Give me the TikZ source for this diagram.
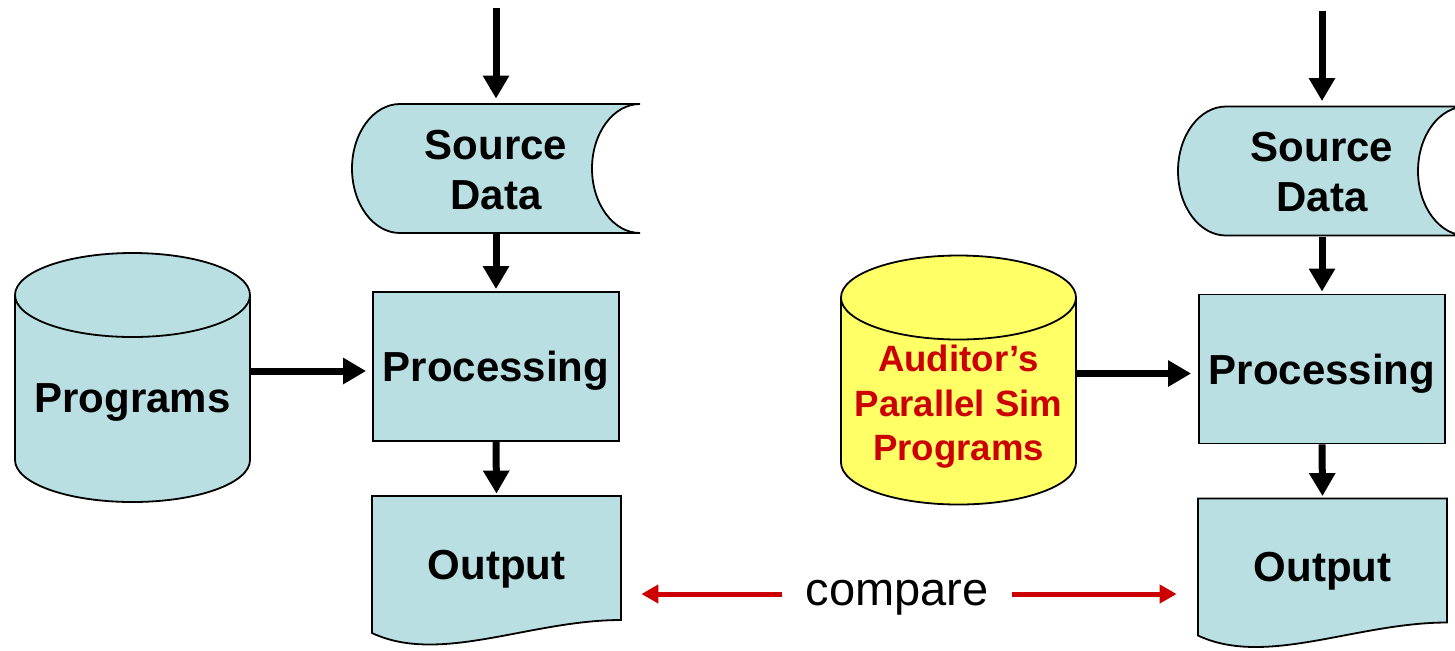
\documentclass[tikz,border=0pt]{standalone}
\usepackage{fontspec}
\setmainfont{Liberation Sans}
\usetikzlibrary{arrows.meta}
\definecolor{boxblue}{HTML}{B9DFE3}
\definecolor{simyellow}{HTML}{FFFF66}
\definecolor{alertred}{HTML}{CC0000}
\begin{document}
\begin{tikzpicture}[x=0.5pt,y=-0.5pt,
  shapeline/.style={draw=black, line width=0.9pt, fill=boxblue},
  lbl/.style={font=\bfseries\fontsize{21}{25}\selectfont, align=center, inner sep=0pt, text depth=0pt},
  simlbl/.style={font=\bfseries\fontsize{18.3}{22.3}\selectfont, align=center, inner sep=0pt, text=alertred, text depth=0pt},
  flow/.style={-{Triangle[length=11.5pt,width=12.5pt]}, line width=3.5pt},
  cmparr/.style={-{Triangle[length=8.5pt,width=9pt]}, line width=2.5pt, draw=alertred, fill=alertred}]
\useasboundingbox (0,0) rectangle (1455,650);
\clip (0,0) rectangle (1455,650);
\fill[white] (0,0) rectangle (1455,650);

% ---------- left group ----------
\path[shapeline] (400,104) -- (640,104) arc[start angle=-90, end angle=-270, x radius=48, y radius=64.5] -- (400,233) arc[start angle=90, end angle=270, x radius=48, y radius=64.5] -- cycle;
\path[shapeline] (15,295) -- (15,460) arc[start angle=180, end angle=0, x radius=117.5, y radius=42] -- (250,295) arc[start angle=0, end angle=-180, x radius=117.5, y radius=42] -- cycle;
\draw[line width=0.9pt] (15,295) arc[start angle=180, end angle=0, x radius=117.5, y radius=42];
\path[shapeline] (372,496) -- (621,496) -- (621,620) .. controls (530,620) and (440,665) .. (372,633) -- cycle;

\coordinate (in1) at (496,8);
\node[lbl, minimum width=144pt, minimum height=64.5pt] (src1) at (496,169.5) {Source\\Data};
\node[lbl, minimum width=117.5pt, minimum height=103.5pt] (prog1) at (132.5,398.5) {Programs};
\node[shapeline, lbl, minimum width=123pt, minimum height=74.5pt] (proc1) at (496,366.5) {Processing};
\node[lbl, minimum width=124.5pt, minimum height=68.5pt] (out1) at (496.5,564.5) {Output};

% ---------- right group ----------
\begin{scope}[shift={(826,2.5)}]
\path[shapeline] (400,104) -- (640,104) arc[start angle=-90, end angle=-270, x radius=48, y radius=64.5] -- (400,233) arc[start angle=90, end angle=270, x radius=48, y radius=64.5] -- cycle;
\path[shapeline, fill=simyellow] (15,295) -- (15,460) arc[start angle=180, end angle=0, x radius=117.5, y radius=42] -- (250,295) arc[start angle=0, end angle=-180, x radius=117.5, y radius=42] -- cycle;
\draw[line width=0.9pt] (15,295) arc[start angle=180, end angle=0, x radius=117.5, y radius=42];
\path[shapeline] (372,496) -- (621,496) -- (621,620) .. controls (530,620) and (440,665) .. (372,633) -- cycle;

\coordinate (in2) at (496,8);
\node[lbl, minimum width=144pt, minimum height=64.5pt] (src2) at (496,169.5) {Source\\Data};
\node[simlbl, minimum width=117.5pt, minimum height=103.5pt] (sim2) at (132.5,400.5) {Auditor’s\\Parallel Sim\\Programs};
\node[shapeline, lbl, minimum width=123pt, minimum height=74.5pt] (proc2) at (496,366.5) {Processing};
\node[lbl, minimum width=124.5pt, minimum height=68.5pt] (out2) at (496.5,564.5) {Output};
\end{scope}

% ---------- connectors ----------
\draw[flow, shorten >=3pt] (in1) -- (src1.north);
\draw[flow, shorten >=1pt] (src1.south) -- (proc1.north);
\draw[flow, shorten >=1pt] (proc1.south) -- (out1.north);
\draw[flow, shorten >=3pt] (prog1.east |- 0,371) -- (proc1.west |- 0,371);

\draw[flow, shorten >=3pt] (in2) -- (src2.north);
\draw[flow, shorten >=1pt] (src2.south) -- (proc2.north);
\draw[flow, shorten >=1pt] (proc2.south) -- (out2.north);
\draw[flow, shorten >=3.5pt] (sim2.east |- 0,373.5) -- (proc2.west |- 0,373.5);

\node[font=\fontsize{23.5}{28}\selectfont, inner xsep=11.5pt, inner ysep=0pt, anchor=base] (cmp) at (897,605) {compare};
\draw[cmparr, shorten >=10pt] (cmp.west |- 0,594) -- (out1.east |- 0,594);
\draw[cmparr, shorten >=10.5pt] (cmp.east |- 0,594) -- (out2.west |- 0,594);
\end{tikzpicture}
\end{document}
